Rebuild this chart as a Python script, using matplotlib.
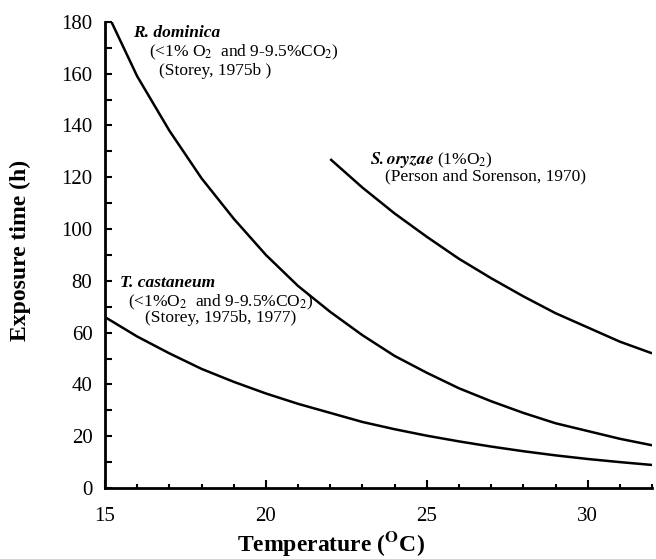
import numpy as np
import matplotlib.pyplot as plt
from matplotlib.ticker import MultipleLocator

plt.rcParams['font.family'] = ['Liberation Serif', 'DejaVu Serif']
plt.rcParams['mathtext.fontset'] = 'stix'

# R. dominica (<1% O2, 9-9.5% CO2) - clipped at 180 on the left
dom_t = [15, 15.2, 16, 17, 18, 19, 20, 21, 22, 23, 24, 25, 26, 27, 28, 29, 30, 31, 32]
dom_h = [180, 180, 159, 138, 119.6, 104, 90, 78, 68, 59, 51, 44.5, 38.5, 33.5, 29, 25, 22, 19, 16.5]

# S. oryzae (1% O2)
ory_t = [22, 23, 24, 25, 26, 27, 28, 29, 30, 31, 32]
ory_h = [127, 116, 106, 97, 88.5, 81, 74, 67.5, 62, 56.5, 52]

# T. castaneum (<1% O2, 9-9.5% CO2)
cas_t = [15, 16, 17, 18, 19, 20, 21, 22, 23, 24, 25, 26, 27, 28, 29, 30, 31, 32]
cas_h = [66, 58.5, 52, 46, 41, 36.5, 32.5, 29, 25.5, 22.7, 20.2, 18, 16, 14.2, 12.6, 11.2, 10, 8.9]

fig = plt.figure(figsize=(6.56, 5.59), dpi=100)
ax = fig.add_axes([0.160, 0.127, 0.834, 0.834])

for t, h in [(dom_t, dom_h), (ory_t, ory_h), (cas_t, cas_h)]:
    ax.plot(t, h, color='black', lw=1.8, solid_capstyle='butt')

ax.set_xlim(15, 32)
ax.set_ylim(0, 180)
ax.xaxis.set_major_locator(MultipleLocator(5))
ax.xaxis.set_minor_locator(MultipleLocator(1))
ax.yaxis.set_major_locator(MultipleLocator(20))
ax.yaxis.set_minor_locator(MultipleLocator(10))
ax.spines['top'].set_visible(False)
ax.spines['right'].set_visible(False)
for s in ['left', 'bottom']:
    ax.spines[s].set_linewidth(2)
ax.tick_params(which='both', direction='in', width=1.5, labelsize=15)
ax.tick_params(axis='y', which='both', length=5, pad=9)
ax.tick_params(axis='x', which='major', length=6, pad=14)
ax.tick_params(axis='x', which='minor', length=3)

ax.set_xlabel(r'Temperature ($^{\mathbf{O}}$C)', fontsize=17, fontweight='bold', va='center')
ax.set_ylabel('Exposure time (h)', fontsize=17, fontweight='bold')
ax.xaxis.set_label_coords(0.413, -0.12)
ax.yaxis.set_label_coords(-0.135, 0.51)

fs = 12.5
ax.text(15.87, 175.7, 'R. dominica', fontsize=fs, fontweight='bold', style='italic', va='center')
ax.text(16.37, 168, r'(<1% O$_2$  and 9-9.5%CO$_2$)', fontsize=fs, va='center')
ax.text(16.68, 161, '(Storey, 1975b )', fontsize=fs, va='center')

ax.text(23.23, 126.6, r'$\mathbfit{S. oryzae}$ (1%O$_2$)', fontsize=fs, va='center')
ax.text(23.7, 120.2, '(Person and Sorenson, 1970)', fontsize=fs, va='center')

ax.text(15.46, 79.2, 'T. castaneum', fontsize=fs, fontweight='bold', style='italic', va='center')
ax.text(15.71, 71.8, r'(<1%O$_2$  and 9-9.5%CO$_2$)', fontsize=fs, va='center')
ax.text(16.24, 65.6, '(Storey, 1975b, 1977)', fontsize=fs, va='center')

fig.savefig('out.png', dpi=100)
